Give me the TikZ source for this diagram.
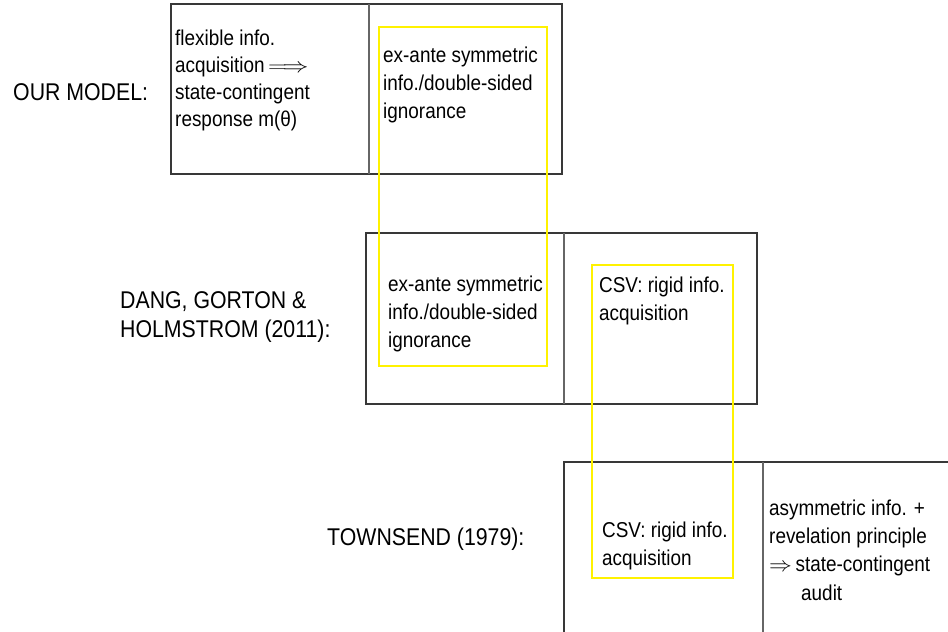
\documentclass[tikz,border=0pt]{standalone}
\usepackage{fontspec}
\setmainfont[FakeStretch=0.88]{Liberation Sans}
\tikzset{
  lab/.style={anchor=base west, inner sep=0pt, font=\fontsize{24.2}{28}\selectfont},
  txt/.style={anchor=base west, inner sep=0pt, font=\fontsize{21.5}{27}\selectfont},
  frame/.style={draw=black!78, line width=1.3pt},
  divider/.style={draw=black!60, line width=1.2pt},
  hl/.style={draw=yellow, line width=1.2pt},
}
\begin{document}
\begin{tikzpicture}[x=1pt,y=-1pt]
\useasboundingbox (0,0) rectangle (948,632);
\clip (0,0) rectangle (948,632);
\fill[white] (0,0) rectangle (948,632);
% frames
\draw[frame] (171,4) rectangle (562,174);
\draw[divider] (369,4) -- (369,174);
\draw[frame] (366,233) rectangle (757,404);
\draw[divider] (564,233) -- (564,404);
\draw[frame] (564,462) rectangle (970,670);
\draw[divider] (763,462) -- (763,670);
% yellow highlights
\draw[hl] (379,27) rectangle (547,366);
\draw[hl] (592,265) rectangle (733,578);
% labels
\node[lab] (l1) at (13,100) {OUR MODEL:};
\node[lab] (l2a) at (120,308) {DANG, GORTON \&};
\node[lab] (l2b) at (120,337) {HOLMSTROM (2011):};
\node[lab] (l3) at (327,545) {TOWNSEND (1979):};
% box 1
\node[txt] (a1) at (175,45) {flexible info.};
\node[txt] (a2) at (175,72) {acquisition\,\smash{\scalebox{1.25}[1]{$\Longrightarrow$}}};
\node[txt] (a3) at (175,99) {state-contingent};
\node[txt] (a4) at (175,126) {response m(θ)};
\node[txt] (b1) at (383,62) {ex-ante symmetric};
\node[txt] (b2) at (383,90) {info./double-sided};
\node[txt] (b3) at (383,118) {ignorance};
% box 2
\node[txt] (c1) at (388,291) {ex-ante symmetric};
\node[txt] (c2) at (388,319) {info./double-sided};
\node[txt] (c3) at (388,347) {ignorance};
\node[txt] (d1) at (599,292) {CSV: rigid info.};
\node[txt] (d2) at (599,320) {acquisition};
% box 3
\node[txt] (e1) at (602,537) {CSV: rigid info.};
\node[txt] (e2) at (602,565) {acquisition};
\node[txt] (f1) at (769,515) {asymmetric info. +};
\node[txt] (f2) at (769,543) {revelation principle};
\node[txt] (f3) at (769,571) {\smash{\scalebox{1.1}[1]{$\Rightarrow$}}\,state-contingent};
\node[txt] (f4) at (801,600) {audit};
\end{tikzpicture}
\end{document}
